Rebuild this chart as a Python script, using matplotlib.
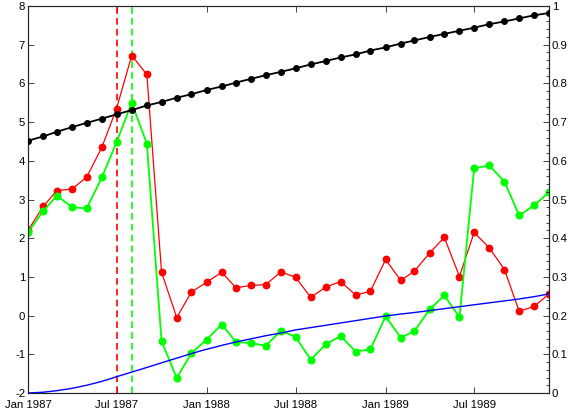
import numpy as np
import pandas as pd
import matplotlib
matplotlib.use("Agg")
import matplotlib.pyplot as plt
import matplotlib.dates as mdates
from matplotlib.ticker import MultipleLocator

plt.rcParams['font.family'] = ['Liberation Sans', 'DejaVu Sans']

dates = pd.date_range("1987-01-01", periods=36, freq="MS")

red_vals = [2.20, 2.82, 3.23, 3.27, 3.58, 4.35, 5.35, 6.72, 6.23, 1.12, -0.05, 0.61,
            0.86, 1.12, 0.72, 0.78, 0.80, 1.13, 0.99, 0.47, 0.74, 0.88, 0.53, 0.63,
            1.45, 0.91, 1.15, 1.62, 2.02, 1.01, 2.15, 1.75, 1.19, 0.11, 0.24, 0.56]
green_vals = [2.15, 2.70, 3.10, 2.80, 2.77, 3.57, 4.48, 5.50, 4.44, -0.66, -1.61, -0.97,
              -0.62, -0.23, -0.68, -0.71, -0.78, -0.39, -0.55, -1.14, -0.74, -0.53, -0.93, -0.87,
              -0.02, -0.57, -0.40, 0.16, 0.52, -0.04, 3.81, 3.88, 3.46, 2.59, 2.85, 3.19]
black_vals = [0.652, 0.663, 0.675, 0.687, 0.698, 0.709, 0.720, 0.731, 0.743, 0.752, 0.763, 0.772,
              0.783, 0.792, 0.802, 0.812, 0.821, 0.830, 0.839, 0.849, 0.858, 0.867, 0.875, 0.885,
              0.893, 0.903, 0.911, 0.920, 0.928, 0.936, 0.944, 0.953, 0.960, 0.968, 0.976, 0.982]
blue_vals = [0.000, 0.002, 0.006, 0.012, 0.020, 0.030, 0.042, 0.054, 0.066, 0.078, 0.090, 0.102,
             0.113, 0.123, 0.132, 0.140, 0.148, 0.155, 0.163, 0.169, 0.175, 0.181, 0.187, 0.193,
             0.199, 0.204, 0.208, 0.213, 0.218, 0.223, 0.228, 0.233, 0.238, 0.243, 0.249, 0.256]

red_event = "1987-07-01"
green_event = "1987-08-01"
xtick_dates = ["1987-01-01", "1987-07-01", "1988-01-01", "1988-07-01", "1989-01-01", "1989-07-01"]
xtick_labels = ["Jan 1987", "Jul 1987", "Jan 1988", "Jul 1988", "Jan 1989", "Jul 1989"]
left_ticks = [-2, -1, 0, 1, 2, 3, 4, 5, 6, 7, 8]
right_ticks = [0, 0.1, 0.2, 0.3, 0.4, 0.5, 0.6, 0.7, 0.8, 0.9, 1]
right_labels = ["0", "0.1", "0.2", "0.3", "0.4", "0.5", "0.6", "0.7", "0.8", "0.9", "1"]

W, H = 571, 412
fig = plt.figure(figsize=(W / 100, H / 100), dpi=100)
ax = fig.add_axes([28 / W, (H - 393) / H, 521 / W, 387 / H])
ax2 = ax.twinx()

axcol = (0.15, 0.15, 0.15)

ax.plot(dates, red_vals, color=(1, 0, 0), lw=0.9, marker='o', ms=4.6, zorder=3)
ax.plot(dates, green_vals, color=(0, 1, 0), lw=1.3, marker='o', ms=4.8, zorder=3)
ax.axvline(pd.Timestamp(red_event), color=(1, 0, 0), ls=(0, (4, 2.5)), lw=1.2)
ax.axvline(pd.Timestamp(green_event), color=(0, 1, 0), ls=(0, (4, 2.5)), lw=1.2)

ax2.plot(dates, black_vals, color='black', lw=1.3, marker='o', ms=4.0, zorder=3)
ax2.plot(dates, blue_vals, color=(0, 0, 1), lw=1.0, zorder=3)

ax.set_xlim(dates[0], dates[-1])
ax.set_ylim(-2, 8)
ax2.set_ylim(0, 1)
ax.set_xticks([pd.Timestamp(d) for d in xtick_dates])
ax.set_xticklabels(xtick_labels)
ax.set_yticks(left_ticks)
ax.set_yticklabels([str(t) for t in left_ticks])
ax2.set_yticks(right_ticks)
ax2.set_yticklabels(right_labels)
ax2.yaxis.set_minor_locator(MultipleLocator(0.02))

for a in (ax, ax2):
    for s in a.spines.values():
        s.set_color(axcol)
        s.set_linewidth(0.8)
ax.tick_params(axis='both', direction='in', length=4, width=0.6, color=axcol,
               labelsize=8.2, labelcolor='black', top=True)
ax.tick_params(axis='x', pad=5)
ax.tick_params(axis='y', right=False, pad=2)
ax2.tick_params(axis='y', which='major', direction='in', length=4, width=0.6, color=axcol,
                labelsize=8.2, labelcolor='black', pad=2)
ax2.tick_params(axis='y', which='minor', direction='in', length=2.2, width=0.6, color=axcol)

fig.savefig("out.png", dpi=100)
